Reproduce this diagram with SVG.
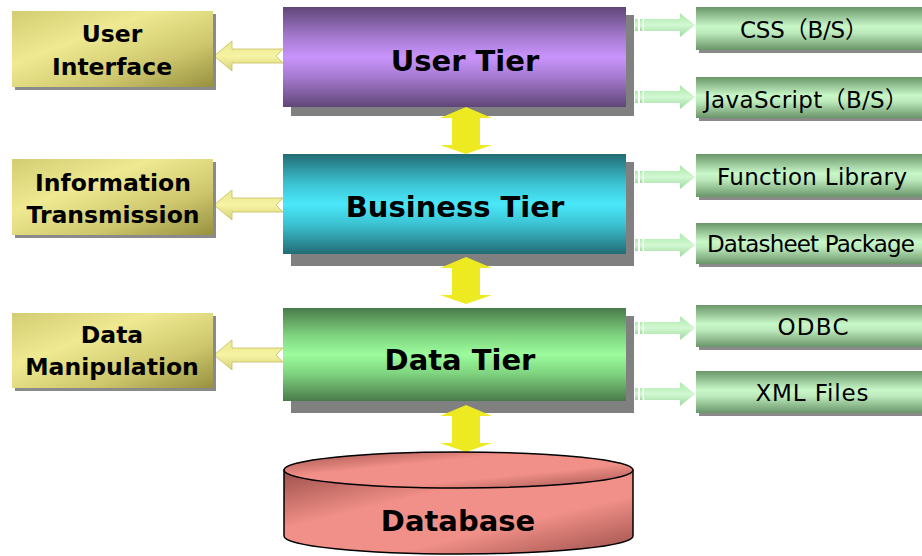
<svg xmlns="http://www.w3.org/2000/svg" width="922" height="556" viewBox="0 0 922 556">
<style>
.tier{font-family:"DejaVu Sans",Verdana,sans-serif;font-weight:bold;font-size:29px;fill:#000;text-anchor:middle}
.lbl{font-family:"DejaVu Sans",Verdana,sans-serif;font-weight:bold;font-size:23.5px;fill:#000;text-anchor:middle}
.rt{font-family:"DejaVu Sans","Noto Sans CJK SC",sans-serif;font-size:23px;fill:#000;text-anchor:middle}
.shadow{fill:#808080}
.sshadow{fill:#8a8a8a}
.ya{fill:#eeea22}
.la{fill:url(#gLA);stroke:#c4bf60;stroke-width:0.8}
.ra{fill:url(#gRA)}
</style>
<defs>
<linearGradient id="gUser" x1="0" y1="0" x2="0" y2="1">
<stop offset="0" stop-color="#5f4677"/><stop offset="0.3" stop-color="#a67ad0"/><stop offset="0.5" stop-color="#c994fb"/><stop offset="0.7" stop-color="#a67ad0"/><stop offset="1" stop-color="#5f4677"/>
</linearGradient>
<linearGradient id="gBus" x1="0" y1="0" x2="0" y2="1">
<stop offset="0" stop-color="#226c74"/><stop offset="0.3" stop-color="#3cc3d3"/><stop offset="0.5" stop-color="#4ae8fa"/><stop offset="0.7" stop-color="#3cc3d3"/><stop offset="1" stop-color="#226c74"/>
</linearGradient>
<linearGradient id="gData" x1="0" y1="0" x2="0" y2="1">
<stop offset="0" stop-color="#4a7a4a"/><stop offset="0.3" stop-color="#80d580"/><stop offset="0.5" stop-color="#9cfc9c"/><stop offset="0.7" stop-color="#80d580"/><stop offset="1" stop-color="#4a7a4a"/>
</linearGradient>
<linearGradient id="gLeft" x1="0" y1="0" x2="1" y2="1">
<stop offset="0" stop-color="#d2cc72"/><stop offset="0.35" stop-color="#efea92"/><stop offset="0.7" stop-color="#cdc66c"/><stop offset="1" stop-color="#979040"/>
</linearGradient>
<linearGradient id="gRight" x1="0" y1="0" x2="0" y2="1">
<stop offset="0" stop-color="#6a966a"/><stop offset="0.45" stop-color="#c8f7c8"/><stop offset="0.6" stop-color="#bceabc"/><stop offset="1" stop-color="#6a956a"/>
</linearGradient>
<linearGradient id="gLA" x1="0" y1="0" x2="0" y2="1">
<stop offset="0" stop-color="#ebe688"/><stop offset="0.5" stop-color="#f6f3a4"/><stop offset="1" stop-color="#d8d274"/>
</linearGradient>
<linearGradient id="gRA" x1="0" y1="0" x2="0" y2="1">
<stop offset="0" stop-color="#a9e8a9"/><stop offset="0.5" stop-color="#d2f8d2"/><stop offset="1" stop-color="#9ed89e"/>
</linearGradient>
<linearGradient id="gDB" x1="0" y1="0" x2="1" y2="1">
<stop offset="0" stop-color="#9c4f4a"/><stop offset="0.35" stop-color="#f19088"/><stop offset="0.65" stop-color="#f19088"/><stop offset="1" stop-color="#9c4f4a"/>
</linearGradient>
<path id="leftArrow" d="M214,0 L232,-15 L232,-7 L283,-7 L276,0 L283,7 L232,7 L232,15 Z"/>
<g id="rightArrow">
<rect x="635" y="-6" width="3" height="12"/>
<rect x="640" y="-6" width="2.5" height="12"/>
<path d="M644,-6 L680,-6 L680,-12 L695,0 L680,12 L680,6 L644,6 Z"/>
</g>
<path id="dblArrow" d="M0,0 L26,11 L14,11 L14,38 L26,38 L0,47 L-26,38 L-14,38 L-14,11 L-26,11 Z"/>
</defs>

<g id="connectors">
<use href="#leftArrow" class="la" transform="translate(0,56)"/>
<use href="#leftArrow" class="la" transform="translate(0,205)"/>
<use href="#leftArrow" class="la" transform="translate(0,355)"/>
<use href="#rightArrow" class="ra" transform="translate(0,25)"/>
<use href="#rightArrow" class="ra" transform="translate(0,97)"/>
<use href="#rightArrow" class="ra" transform="translate(0,177)"/>
<use href="#rightArrow" class="ra" transform="translate(0,245)"/>
<use href="#rightArrow" class="ra" transform="translate(0,328)"/>
<use href="#rightArrow" class="ra" transform="translate(0,394)"/>
</g>

<g id="user-tier">
<rect class="shadow" x="291" y="15" width="343" height="101"/>
<rect x="283" y="7" width="343" height="100" fill="url(#gUser)"/>
<text class="tier" x="465" y="71">User Tier</text>
</g>
<g id="business-tier">
<rect class="shadow" x="291" y="162" width="343" height="104"/>
<rect x="283" y="154" width="343" height="100" fill="url(#gBus)"/>
<text class="tier" x="455" y="217">Business Tier</text>
</g>
<g id="data-tier">
<rect class="shadow" x="291" y="316" width="343" height="97"/>
<rect x="283" y="308" width="343" height="93" fill="url(#gData)"/>
<text class="tier" x="460" y="370">Data Tier</text>
</g>

<g id="tier-arrows">
<use href="#dblArrow" class="ya" transform="translate(466,107)"/>
<use href="#dblArrow" class="ya" transform="translate(466,257)"/>
<use href="#dblArrow" class="ya" transform="translate(466,405)"/>
</g>

<g id="database">
<path d="M284,470 L284,536 A174.5,18 0 0 0 633,536 L633,470 Z" fill="url(#gDB)" stroke="#000" stroke-width="1.5"/>
<ellipse cx="458.5" cy="470" rx="174.5" ry="18" fill="url(#gDB)" stroke="#000" stroke-width="1.5"/>
<text class="tier" x="458" y="531">Database</text>
</g>

<g id="user-interface">
<rect class="sshadow" x="15" y="14" width="201" height="76"/>
<rect x="12" y="11" width="201" height="76" fill="url(#gLeft)"/>
<text class="lbl" x="112" y="42">User</text>
<text class="lbl" x="112" y="75">Interface</text>
</g>
<g id="information-transmission">
<rect class="sshadow" x="15" y="162" width="201" height="76"/>
<rect x="12" y="159" width="201" height="76" fill="url(#gLeft)"/>
<text class="lbl" x="113" y="191">Information</text>
<text class="lbl" x="113" y="223">Transmission</text>
</g>
<g id="data-manipulation">
<rect class="sshadow" x="15" y="316" width="201" height="75"/>
<rect x="12" y="313" width="201" height="75" fill="url(#gLeft)"/>
<text class="lbl" x="112" y="343">Data</text>
<text class="lbl" x="112" y="375">Manipulation</text>
</g>

<g id="css">
<rect class="sshadow" x="699" y="10" width="240" height="43"/>
<rect x="696" y="7" width="240" height="43" fill="url(#gRight)"/>
<text class="rt" x="804" y="38" textLength="128">CSS（B/S）</text>
</g>
<g id="javascript">
<rect class="sshadow" x="699" y="80" width="240" height="41"/>
<rect x="696" y="77" width="240" height="41" fill="url(#gRight)"/>
<text class="rt" x="806" y="108" textLength="204">JavaScript（B/S）</text>
</g>
<g id="function-library">
<rect class="sshadow" x="699" y="157" width="240" height="43"/>
<rect x="696" y="154" width="240" height="43" fill="url(#gRight)"/>
<text class="rt" x="812" y="185" textLength="190">Function Library</text>
</g>
<g id="datasheet-package">
<rect class="sshadow" x="699" y="226" width="240" height="41"/>
<rect x="696" y="223" width="240" height="41" fill="url(#gRight)"/>
<text class="rt" x="811" y="252" textLength="208">Datasheet Package</text>
</g>
<g id="odbc">
<rect class="sshadow" x="699" y="308" width="240" height="42"/>
<rect x="696" y="305" width="240" height="42" fill="url(#gRight)"/>
<text class="rt" x="813" y="335" textLength="71">ODBC</text>
</g>
<g id="xml-files">
<rect class="sshadow" x="699" y="374" width="240" height="42"/>
<rect x="696" y="371" width="240" height="42" fill="url(#gRight)"/>
<text class="rt" x="812" y="401" textLength="113">XML Files</text>
</g>
</svg>
